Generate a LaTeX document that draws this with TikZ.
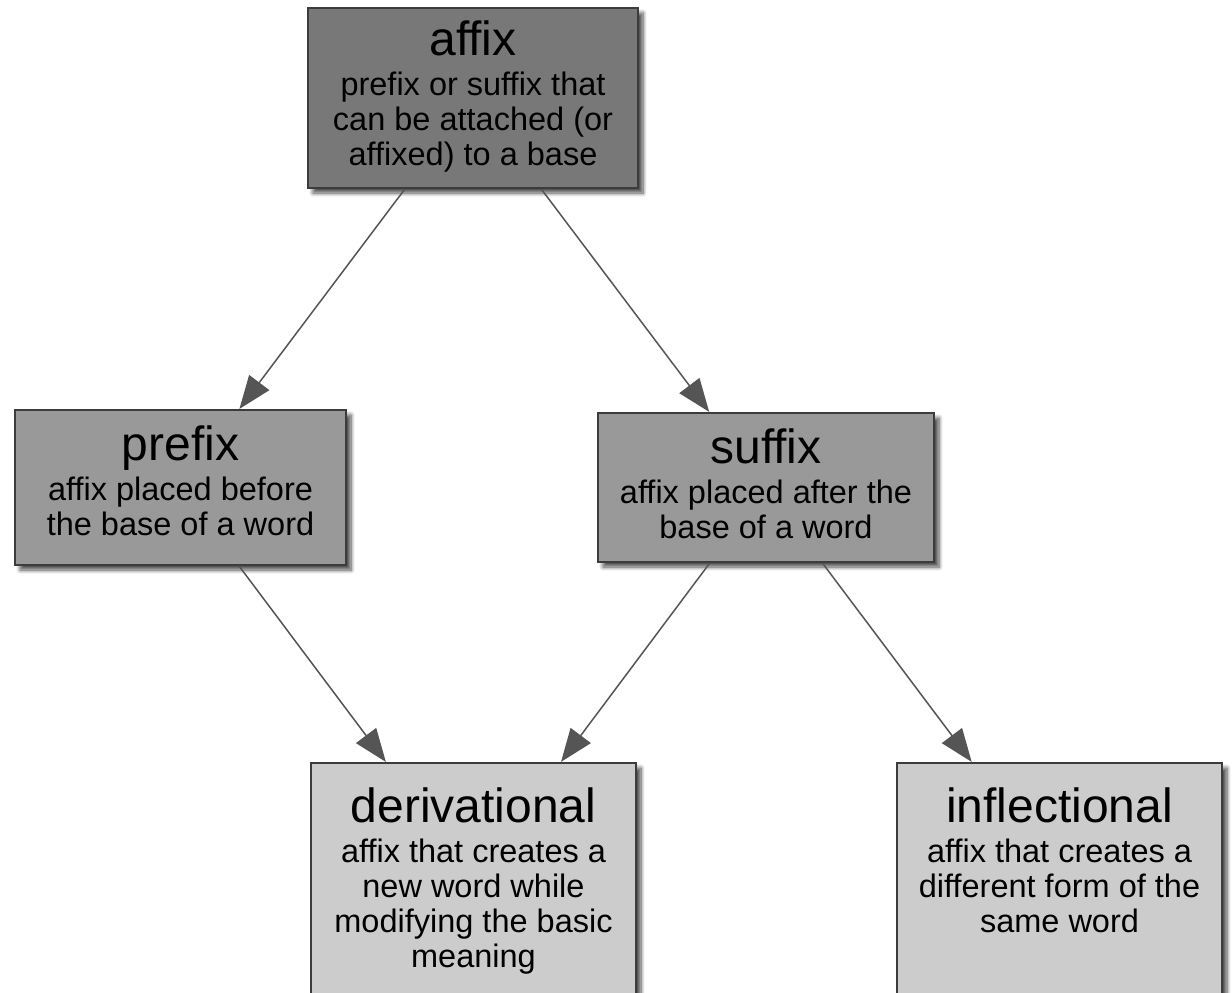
\documentclass[tikz,border=0pt]{standalone}
\usepackage{fontspec}
\setmainfont{Liberation Sans}
\usetikzlibrary{arrows.meta,shadows.blur}

\definecolor{edgegray}{HTML}{555555}
\definecolor{framegray}{HTML}{3C3C3C}
\definecolor{levelone}{HTML}{787878}
\definecolor{leveltwo}{HTML}{999999}
\definecolor{levelthree}{HTML}{CCCCCC}

\tikzset{
  termbox/.style={draw=framegray, line width=2.2pt, inner sep=0pt,
    blur shadow={shadow xshift=5pt, shadow yshift=-5pt,
      shadow blur radius=4pt, shadow blur steps=8, shadow opacity=70}},
  termtext/.style={anchor=north, inner sep=0pt, align=center, text=black,
    font=\fontsize{32.5}{35}\selectfont},
  link/.style={draw=edgegray, line width=1.5pt,
    -{Triangle[length=33pt,width=25pt,fill=edgegray]}},
}
\newcommand{\termtitle}[1]{{\fontsize{48}{48}\selectfont #1}\\[5pt]}

\begin{document}
\begin{tikzpicture}[x=1pt,y=-1pt]
\useasboundingbox (0,0) rectangle (1232,993);
\clip (0,0) rectangle (1232,993);

% boxes
\node[termbox, fill=levelone, minimum width=330pt, minimum height=180pt]
  (affix) at (473,98) {};
\node[termbox, fill=leveltwo, minimum width=331pt, minimum height=155pt]
  (prefix) at (180.5,487.5) {};
\node[termbox, fill=leveltwo, minimum width=336pt, minimum height=149pt]
  (suffix) at (766,487.5) {};
\node[termbox, fill=levelthree, minimum width=325pt, minimum height=234pt]
  (deriv) at (473.5,880) {};
\node[termbox, fill=levelthree, minimum width=325pt, minimum height=234pt]
  (infl) at (1059.5,880) {};

% texts
\node[termtext] (affix-t) at ([yshift=-14pt]affix.north)
  {\termtitle{affix}prefix or suffix that\\can be attached (or\\affixed) to a base};
\node[termtext] (prefix-t) at ([yshift=-17pt]prefix.north)
  {\termtitle{prefix}affix placed before\\the base of a word};
\node[termtext] (suffix-t) at ([yshift=-17pt]suffix.north)
  {\termtitle{suffix}affix placed after the\\base of a word};
\node[termtext] (deriv-t) at ([yshift=-26pt]deriv.north)
  {\termtitle{derivational}affix that creates a\\new word while\\modifying the basic\\meaning};
\node[termtext] (infl-t) at ([yshift=-26pt]infl.north)
  {\termtitle{inflectional}affix that creates a\\different form of the\\same word};

% connectors
\draw[link] (affix) -- (prefix);
\draw[link] (affix) -- (suffix);
\draw[link] (prefix) -- (deriv);
\draw[link] (suffix) -- (deriv);
\draw[link] (suffix) -- (infl);
\end{tikzpicture}
\end{document}
